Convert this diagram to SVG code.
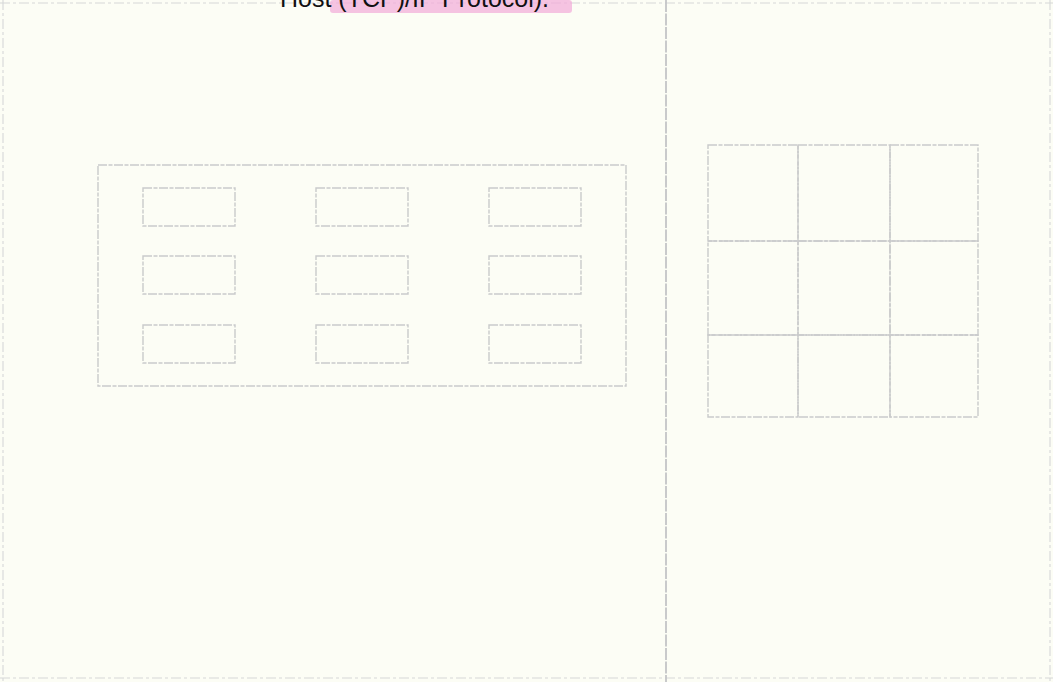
<svg xmlns="http://www.w3.org/2000/svg" width="1053" height="682" viewBox="0 0 1053 682">
<style>
.bg{fill:#fcfdf5}
.ln{fill:none;stroke:#c9cacb;stroke-width:1.4;stroke-dasharray:9 1.5 4 1.5}
.frame{fill:none;stroke:#d6d7d7;stroke-width:1.1;stroke-dasharray:10 3 3 3}
.div{fill:none;stroke:#c4c5c7;stroke-width:1.8;stroke-dasharray:12 1.5}
.title{font-family:"Liberation Sans",Arial,sans-serif;font-size:25px;fill:#111}
.hl{fill:#f2a9d8;opacity:0.7}
</style>
<rect class="bg" x="0" y="0" width="1053" height="682"/>
<g id="frame">
<line class="frame" x1="0" y1="3" x2="1053" y2="3"/>
<line class="frame" x1="0" y1="678" x2="1053" y2="678"/>
<line class="frame" x1="3" y1="0" x2="3" y2="682"/>
<line class="frame" x1="1050" y1="0" x2="1050" y2="682"/>
<line class="div" x1="666" y1="0" x2="666" y2="682"/>
</g>
<g id="title">
<rect class="hl" x="330" y="0" width="242" height="13" rx="3"/>
<text class="title" x="280" y="7">Host (TCP)/IP Protocol).</text>
</g>
<g id="container">
<rect class="ln" x="98" y="165" width="528" height="221"/>
</g>
<g id="box-1-1"><rect class="ln" x="143" y="188" width="92" height="38"/></g>
<g id="box-1-2"><rect class="ln" x="316" y="188" width="92" height="38"/></g>
<g id="box-1-3"><rect class="ln" x="489" y="188" width="92" height="38"/></g>
<g id="box-2-1"><rect class="ln" x="143" y="256" width="92" height="38"/></g>
<g id="box-2-2"><rect class="ln" x="316" y="256" width="92" height="38"/></g>
<g id="box-2-3"><rect class="ln" x="489" y="256" width="92" height="38"/></g>
<g id="box-3-1"><rect class="ln" x="143" y="325" width="92" height="38"/></g>
<g id="box-3-2"><rect class="ln" x="316" y="325" width="92" height="38"/></g>
<g id="box-3-3"><rect class="ln" x="489" y="325" width="92" height="38"/></g>
<g id="grid">
<g id="cell-1-1"><rect class="ln" x="708" y="145" width="90" height="96"/></g>
<g id="cell-1-2"><rect class="ln" x="798" y="145" width="92" height="96"/></g>
<g id="cell-1-3"><rect class="ln" x="890" y="145" width="88" height="96"/></g>
<g id="cell-2-1"><rect class="ln" x="708" y="241" width="90" height="94"/></g>
<g id="cell-2-2"><rect class="ln" x="798" y="241" width="92" height="94"/></g>
<g id="cell-2-3"><rect class="ln" x="890" y="241" width="88" height="94"/></g>
<g id="cell-3-1"><rect class="ln" x="708" y="335" width="90" height="82"/></g>
<g id="cell-3-2"><rect class="ln" x="798" y="335" width="92" height="82"/></g>
<g id="cell-3-3"><rect class="ln" x="890" y="335" width="88" height="82"/></g>
</g>
<g id="connectors"></g>
</svg>
